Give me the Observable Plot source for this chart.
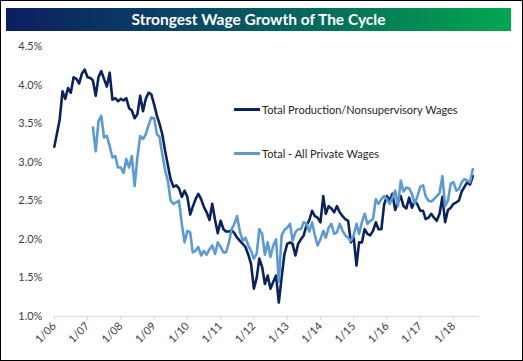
<!DOCTYPE html>
<html>
<head>
<meta charset="utf-8">
<script src="https://cdn.jsdelivr.net/npm/d3@7"></script>
<script src="https://cdn.jsdelivr.net/npm/@observablehq/plot@0.6"></script>
<style>
  html, body { margin: 0; padding: 0; background: #fff; }
  #wrap { position: relative; width: 523px; height: 361px; box-sizing: border-box; border: 1px solid #000; background: #fff; overflow: hidden; font-family: Lato, "Open Sans", sans-serif; }
  #title { position: absolute; left: 5px; top: 7px; width: 505px; height: 23px; background: linear-gradient(to right, #0b1f5f 0%, #0a3f66 30%, #06705a 65%, #00a84f 100%); color: #fff; font-weight: bold; font-size: 15.5px; line-height: 23px; text-align: center; }
  #chart { position: absolute; left: -1px; top: 35px; }
  .leg { position: absolute; left: 233px; font-size: 11px; color: #262626; display: flex; align-items: center; white-space: nowrap; }
  .leg i { display: inline-block; width: 26px; height: 3px; margin-right: 2px; }
</style>
</head>
<body>
<div id="wrap">
  <div id="title">Strongest Wage Growth of The Cycle</div>
  <div id="chart"></div>
  <div class="leg" style="top:102px"><i style="background:#0b2260"></i>Total Production/Nonsupervisory Wages</div>
  <div class="leg" style="top:146px"><i style="background:#5b9bd5"></i>Total - All Private Wages</div>
</div>
<script>
// Monthly YoY % change, Jan 2006 - Aug 2018
const productionWages = [
  3.20, 3.38, 3.55, 3.92, 3.82, 3.96, 3.90, 4.10, 4.08, 4.02, 4.15, 4.20,
  4.10, 4.09, 4.06, 3.86, 4.10, 4.18, 4.08, 3.98, 4.16, 3.81, 3.83, 3.79,
  3.82, 3.80, 3.83, 3.70, 3.67, 3.57, 3.62, 3.86, 3.66, 3.82, 3.90, 3.88,
  3.75, 3.60, 3.50, 3.36, 3.15, 2.96, 2.78, 2.68, 2.70, 2.66, 2.55, 2.63,
  2.55, 2.32, 2.42, 2.52, 2.59, 2.52, 2.42, 2.35, 2.25, 2.46, 2.25, 2.08,
  2.24, 2.13, 2.10, 2.10, 2.12, 2.08, 2.02, 1.98, 1.94, 1.90, 1.80, 1.68,
  1.36, 1.50, 1.75, 1.64, 1.42, 1.53, 1.36, 1.45, 1.53, 1.18, 1.51, 1.80,
  1.94, 1.96, 1.94, 1.79, 1.94, 2.00, 2.05, 2.18, 2.25, 2.37, 2.30, 2.28,
  2.22, 2.56, 2.33, 2.43, 2.40, 2.35, 2.43, 2.35, 2.30, 2.26, 2.24, 1.96,
  2.02, 1.66, 1.96, 1.96, 2.13, 2.07, 2.05, 2.11, 2.22, 2.13, 2.13, 2.45,
  2.56, 2.50, 2.59, 2.38, 2.48, 2.56, 2.43, 2.40, 2.54, 2.41, 2.50, 2.45,
  2.37, 2.37, 2.26, 2.28, 2.33, 2.28, 2.24, 2.33, 2.55, 2.22, 2.38, 2.41,
  2.46, 2.48, 2.50, 2.62, 2.68, 2.74, 2.71, 2.82
];
// Monthly YoY % change, Mar 2007 - Aug 2018
const privateWages = [
  3.45, 3.14, 3.53, 3.60, 3.32, 3.34, 3.21, 3.06, 3.08, 2.93,
  2.93, 2.86, 3.04, 2.93, 3.08, 2.69, 3.06, 3.34, 3.30, 3.36, 3.48, 3.58,
  3.57, 3.36, 3.33, 3.10, 2.90, 2.76, 2.50, 2.46, 2.48, 2.50, 2.20, 1.96,
  2.11, 2.09, 1.83, 1.85, 1.90, 1.79, 1.85, 1.80, 1.87, 1.92, 1.81, 1.96,
  1.90, 1.83, 1.83, 1.95, 2.13, 2.20, 2.30, 2.10, 1.98, 2.02, 1.92, 1.85,
  1.75, 1.81, 2.13, 2.07, 1.80, 1.96, 1.77, 1.92, 2.00, 1.45, 2.05, 2.12,
  2.15, 2.20, 1.98, 2.09, 2.13, 2.13, 2.22, 2.20, 2.10, 2.22, 2.05, 1.92,
  2.00, 2.11, 2.02, 2.15, 2.20, 2.07, 2.09, 2.20, 2.11, 2.05, 2.02, 1.98,
  2.05, 2.20, 2.07, 2.22, 2.33, 2.20, 2.24, 2.26, 2.52, 2.46, 2.52, 2.56,
  2.52, 2.46, 2.54, 2.63, 2.43, 2.76, 2.62, 2.67, 2.66, 2.59, 2.46, 2.56,
  2.68, 2.70, 2.56, 2.50, 2.49, 2.52, 2.56, 2.60, 2.82, 2.43, 2.50, 2.72,
  2.74, 2.63, 2.65, 2.74, 2.78, 2.76, 2.74, 2.91
];
const yTicks = [1.0, 1.5, 2.0, 2.5, 3.0, 3.5, 4.0, 4.5];
const xTickYears = [2006, 2007, 2008, 2009, 2010, 2011, 2012, 2013, 2014, 2015, 2016, 2017, 2018];

const prod = productionWages.map((v, i) => ({date: new Date(Date.UTC(2006, i, 1)), value: v}));
const priv = privateWages.map((v, i) => ({date: new Date(Date.UTC(2007, 2 + i, 1)), value: v}));
const xTicks = xTickYears.map(y => new Date(Date.UTC(y, 0, 1)));

const chart = Plot.plot({
  width: 524,
  height: 326,
  marginTop: 10,
  marginBottom: 45,
  marginLeft: 54,
  marginRight: 43,
  style: {fontFamily: "Lato, 'Open Sans', sans-serif", fontSize: "11px", color: "#404040", background: "transparent", overflow: "visible"},
  x: {type: "utc", domain: [new Date(Date.UTC(2006, 0, 1)), new Date(Date.UTC(2018, 9, 15))]},
  y: {domain: [1, 4.5]},
  marks: [
    Plot.axisY({ticks: yTicks, tickFormat: d => d.toFixed(1) + "%", tickSize: 0, tickPadding: 12, label: null}),
    Plot.ruleY([1], {stroke: "#d9d9d9", strokeWidth: 1}),
    Plot.axisX({ticks: xTicks, tickFormat: d => "1/" + String(d.getUTCFullYear()).slice(2), tickRotate: -45, tickSize: 4, tickPadding: 4, stroke: "#d9d9d9", strokeOpacity: 1, label: null}),
    Plot.lineY(prod, {x: "date", y: "value", stroke: "#0b2260", strokeWidth: 2.6}),
    Plot.lineY(priv, {x: "date", y: "value", stroke: "#5b9bd5", strokeWidth: 2.6})
  ]
});
document.getElementById("chart").appendChild(chart);
</script>
</body>
</html>
